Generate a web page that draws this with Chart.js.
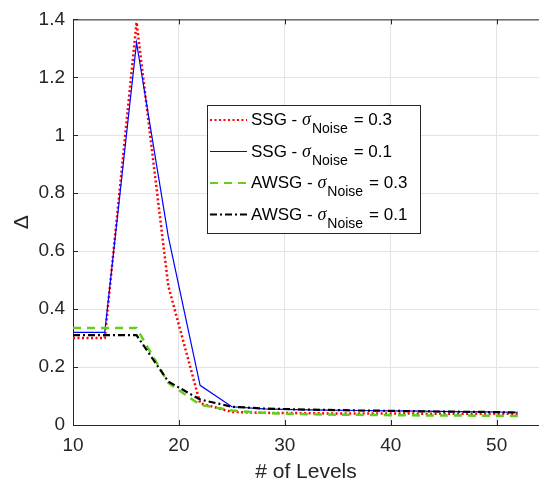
<!DOCTYPE html>
<html>
<head>
<meta charset="utf-8">
<script src="https://cdn.jsdelivr.net/npm/chart.js@4"></script>
<style>
  html, body { margin: 0; padding: 0; background: #fff; }
  #wrap { width: 539px; height: 485px; position: relative; }
</style>
</head>
<body>
<div id="wrap"><canvas id="deltaChart"></canvas></div>
<script>
const levels = [10, 13, 16, 19, 22, 25, 28, 31, 34, 37, 40, 43, 46, 49, 52];
const ssgNoise03 = [0.30, 0.30, 1.39, 0.48, 0.075, 0.045, 0.042, 0.041, 0.040, 0.040, 0.040, 0.039, 0.039, 0.039, 0.039];
const ssgNoise01 = [0.32, 0.32, 1.32, 0.65, 0.137, 0.063, 0.056, 0.053, 0.051, 0.050, 0.049, 0.048, 0.046, 0.045, 0.044];
const awsgNoise03 = [0.335, 0.335, 0.335, 0.145, 0.07, 0.05, 0.042, 0.038, 0.036, 0.035, 0.034, 0.033, 0.033, 0.032, 0.031];
const awsgNoise01 = [0.31, 0.31, 0.31, 0.15, 0.088, 0.063, 0.057, 0.054, 0.052, 0.050, 0.049, 0.047, 0.046, 0.045, 0.043];

const methodNames = ["SSG", "SSG", "AWSG", "AWSG"];
const noiseLevels = ["0.3", "0.1", "0.3", "0.1"];
const xTicks = [10, 20, 30, 40, 50];
const yTicks = [0, 0.2, 0.4, 0.6, 0.8, 1, 1.2, 1.4];

const axisColor = "#262626";
const gridColor = "#e3e3e3";

function toPoints(values) {
  return levels.map((x, i) => ({ x: x, y: values[i] }));
}

const styles = [
  { color: "#ff0000", width: 2.5, dash: [2, 2.5], order: 3 },
  { color: "#0000ff", width: 1.2, dash: [], order: 2 },
  { color: "#62cf1f", width: 2.5, dash: [8, 6], order: 1 },
  { color: "#000000", width: 2.2, dash: [7, 3, 2, 3], order: 0 },
];
const seriesValues = [ssgNoise03, ssgNoise01, awsgNoise03, awsgNoise01];

const datasets = seriesValues.map((values, i) => ({
  label: methodNames[i] + " - \u03c3Noise = " + noiseLevels[i],
  data: toPoints(values),
  borderColor: styles[i].color,
  backgroundColor: styles[i].color,
  borderWidth: styles[i].width,
  borderDash: styles[i].dash,
  order: styles[i].order,
  pointRadius: 0,
  tension: 0,
  fill: false,
}));

// MATLAB style box: top border and inward ticks
const axesBox = {
  id: "axesBox",
  afterDraw(chart) {
    const { ctx, chartArea: a, scales } = chart;
    ctx.save();
    ctx.strokeStyle = axisColor;
    ctx.lineWidth = 1;
    ctx.beginPath();
    ctx.moveTo(a.left, a.top + 0.5);
    ctx.lineTo(a.right, a.top + 0.5);
    xTicks.forEach((t) => {
      const px = Math.round(scales.x.getPixelForValue(t)) + 0.5;
      ctx.moveTo(px, a.bottom);
      ctx.lineTo(px, a.bottom - 5);
      ctx.moveTo(px, a.top);
      ctx.lineTo(px, a.top + 5);
    });
    yTicks.forEach((t) => {
      const py = Math.round(scales.y.getPixelForValue(t)) + 0.5;
      ctx.moveTo(a.left, py);
      ctx.lineTo(a.left + 5, py);
    });
    ctx.stroke();
    ctx.restore();
  },
};

// legend with subscripted sigma label
const subLegend = {
  id: "subLegend",
  afterDraw(chart) {
    const { ctx } = chart;
    const box = { left: 207, top: 105, right: 420, bottom: 233 };
    ctx.save();
    ctx.fillStyle = "#fff";
    ctx.fillRect(box.left, box.top, box.right - box.left, box.bottom - box.top);
    ctx.strokeStyle = axisColor;
    ctx.lineWidth = 1;
    ctx.strokeRect(box.left + 0.5, box.top + 0.5, box.right - box.left, box.bottom - box.top);

    chart.data.datasets.forEach((ds, i) => {
      const base = 125 + i * 31.5;
      const midY = base - 5;
      ctx.strokeStyle = ds.borderColor;
      ctx.lineWidth = Math.min(ds.borderWidth, 2);
      ctx.setLineDash(ds.borderDash);
      ctx.beginPath();
      ctx.moveTo(210, midY);
      ctx.lineTo(247, midY);
      ctx.stroke();
      ctx.setLineDash([]);

      ctx.fillStyle = "#000";
      ctx.textBaseline = "alphabetic";
      let x = 251;
      ctx.font = "17px 'Liberation Sans', Arial, sans-serif";
      const head = methodNames[i] + " - ";
      ctx.fillText(head, x, base);
      x += ctx.measureText(head).width;
      ctx.font = "italic 18px 'Liberation Serif', 'Times New Roman', serif";
      ctx.fillText("\u03c3", x, base);
      x += ctx.measureText("\u03c3").width + 1;
      ctx.font = "14px 'Liberation Sans', Arial, sans-serif";
      ctx.fillText("Noise", x, base + 8);
      x += ctx.measureText("Noise").width + 6;
      ctx.font = "17px 'Liberation Sans', Arial, sans-serif";
      ctx.fillText("= " + noiseLevels[i], x, base);
    });
    ctx.restore();
  },
};

new Chart(document.getElementById("deltaChart").getContext("2d"), {
  type: "line",
  data: { datasets: datasets },
  options: {
    responsive: true,
    maintainAspectRatio: false,
    animation: false,
    layout: { padding: { top: 16, right: 0, bottom: 0, left: 0 } },
    plugins: {
      legend: { display: false },
      tooltip: { enabled: false },
    },
    scales: {
      x: {
        type: "linear",
        min: 10,
        max: 54,
        afterBuildTicks: (scale) => {
          scale.ticks = xTicks.map((v) => ({ value: v }));
        },
        afterFit: (scale) => {
          scale.height = 60;
        },
        grid: { color: gridColor, drawTicks: false },
        border: { color: axisColor, width: 1 },
        ticks: {
          padding: 9,
          color: axisColor,
          font: { family: "'Liberation Sans', Arial, sans-serif", size: 19 },
          maxRotation: 0,
        },
        title: {
          display: true,
          text: "# of Levels",
          color: axisColor,
          font: { family: "'Liberation Sans', Arial, sans-serif", size: 21 },
          padding: { top: 0, bottom: 0 },
        },
      },
      y: {
        min: 0,
        max: 1.4,
        afterBuildTicks: (scale) => {
          scale.ticks = yTicks.map((v) => ({ value: v }));
        },
        afterFit: (scale) => {
          scale.width = 73;
        },
        grid: { color: gridColor, drawTicks: false },
        border: { color: axisColor, width: 1 },
        ticks: {
          padding: 8,
          color: axisColor,
          font: { family: "'Liberation Sans', Arial, sans-serif", size: 19 },
          callback: (v) => String(Number(v.toFixed(1))),
        },
        title: {
          display: true,
          text: "\u0394",
          color: axisColor,
          font: { family: "'Liberation Sans', Arial, sans-serif", size: 21 },
          padding: { top: 10, bottom: 0 },
        },
      },
    },
  },
  plugins: [axesBox, subLegend],
});
</script>
</body>
</html>
